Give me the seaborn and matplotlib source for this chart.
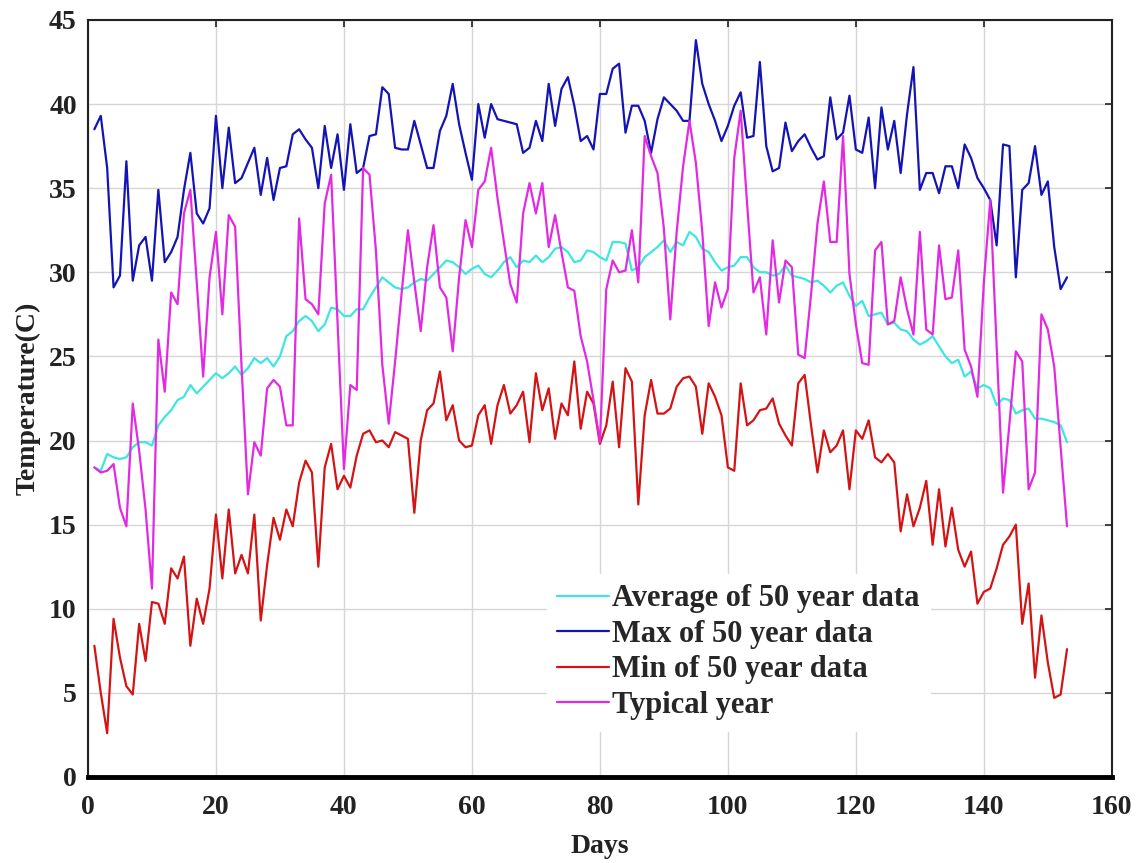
import numpy as np
import pandas as pd
import seaborn as sns
import matplotlib
matplotlib.use("Agg")
import matplotlib.pyplot as plt

# day index 1..153
days = np.arange(1, 154)

# ---- series ----
avg_50 = [18.4, 18.2, 19.2, 19.0, 18.9, 19.0, 19.6, 19.9, 19.9, 19.7, 20.9, 21.4, 21.8, 22.4, 22.6, 23.3, 22.8, 23.2, 23.6, 24.0, 23.7,
          24.0, 24.4, 23.9, 24.3, 24.9, 24.6, 24.9, 24.4, 25.0, 26.2, 26.5, 27.1, 27.4, 27.1, 26.5, 26.9, 27.9, 27.8, 27.4,
          27.4, 27.8, 27.8, 28.5, 29.1, 29.7, 29.4, 29.1, 29.0, 29.1, 29.4, 29.6, 29.5, 29.9, 30.3, 30.7, 30.6, 30.3, 29.9, 30.2,
          30.4, 29.9, 29.7, 30.1, 30.6, 30.9, 30.3, 30.7, 30.6, 31.0, 30.6, 30.9, 31.4, 31.5, 31.2, 30.6, 30.7, 31.3, 31.2, 30.9,
          30.7, 31.8, 31.8, 31.7, 30.1, 30.3, 30.9, 31.2, 31.5, 31.9, 31.2, 31.8, 31.6, 32.4, 32.1, 31.4, 31.2, 30.6, 30.1, 30.3,
          30.4, 30.9, 30.9, 30.3, 30.0, 30.0, 29.8, 29.9, 30.4, 29.8, 29.7, 29.6, 29.4, 29.5, 29.2, 28.8, 29.2, 29.4, 28.6, 28.0,
          28.3, 27.4, 27.5, 27.6,
          26.9, 27.0, 26.6, 26.5, 26.0, 25.7, 25.9, 26.2, 25.6, 25.0, 24.6, 24.8, 23.8, 24.1,
          23.1, 23.3, 23.1, 22.1, 22.5, 22.4, 21.6, 21.8, 21.9, 21.3, 21.3, 21.2, 21.1, 20.9, 19.9]

max_50 = [38.5, 39.3, 36.2, 29.1, 29.8, 36.6, 29.5, 31.6, 32.1, 29.5, 34.9, 30.6, 31.2, 32.1, 34.9, 37.1, 33.5, 32.9, 33.8, 39.3, 35.0,
          38.6, 35.3, 35.6, 36.5, 37.4, 34.6, 36.8, 34.3, 36.2, 36.3, 38.2, 38.5, 37.9, 37.4, 35.0, 38.7, 36.2, 38.2, 34.9,
          38.8, 35.9, 36.2, 38.1, 38.2, 41.0, 40.6, 37.4, 37.3, 37.3, 39.0, 37.6, 36.2, 36.2, 38.4, 39.3, 41.2, 38.8, 37.1, 35.5,
          40.0, 38.0, 40.0, 39.1, 39.0, 38.9, 38.8, 37.1, 37.4, 39.0, 37.8, 41.2, 38.7, 40.9, 41.6, 39.9, 37.8, 38.1, 37.3, 40.6,
          40.6, 42.1, 42.4, 38.3, 39.9, 39.9, 39.0, 37.1, 39.1, 40.4, 40.0, 39.6, 39.0, 39.0, 43.8, 41.2, 40.0, 39.0, 37.8, 38.7,
          39.9, 40.7, 38.0, 38.1, 42.5, 37.5, 36.0, 36.2, 38.9, 37.2, 37.8, 38.2, 37.4, 36.7, 36.9, 40.4, 37.9, 38.3, 40.5, 37.3,
          37.1, 39.2, 35.0, 39.8,
          37.3, 39.0, 35.9, 39.4, 42.2, 34.9, 35.9, 35.9, 34.7, 36.3, 36.3, 35.0, 37.6, 36.8,
          35.6, 35.0, 34.3, 31.6, 37.6, 37.5, 29.7, 34.9, 35.3, 37.5, 34.6, 35.4, 31.5, 29.0, 29.7]

min_50 = [7.8, 5.0, 2.6, 9.4, 7.1, 5.4, 4.9, 9.1, 6.9, 10.4, 10.3, 9.1, 12.4, 11.8, 13.1, 7.8, 10.6, 9.1, 11.2, 15.6, 11.8,
          15.9, 12.1, 13.2, 12.1, 15.6, 9.3, 12.6, 15.4, 14.1, 15.9, 14.9, 17.5, 18.8, 18.1, 12.5, 18.4, 19.8, 17.1, 17.9,
          17.2, 19.1, 20.4, 20.6, 19.9, 20.0, 19.6, 20.5, 20.3, 20.1, 15.7, 20.0, 21.8, 22.2, 24.1, 21.2, 22.1, 20.0, 19.6, 19.7,
          21.5, 22.1, 19.8, 22.1, 23.3, 21.6, 22.1, 22.9, 19.9, 24.0, 21.8, 23.1, 20.1, 22.2, 21.5, 24.7, 20.7, 22.9, 22.2, 19.8,
          20.9, 23.5, 19.6, 24.3, 23.5, 16.2, 21.5, 23.6, 21.6, 21.6, 21.9, 23.2, 23.7, 23.8, 23.2, 20.4, 23.4, 22.6, 21.5, 18.4,
          18.2, 23.4, 20.9, 21.2, 21.8, 21.9, 22.5, 21.0, 20.3, 19.7, 23.4, 23.9, 20.9, 18.1, 20.6, 19.3, 19.7, 20.6, 17.1, 20.6,
          20.1, 21.2, 19.0, 18.7,
          19.2, 18.7, 14.6, 16.8, 14.9, 16.0, 17.6, 13.8, 17.1, 13.7, 16.0, 13.5, 12.5, 13.4,
          10.3, 11.0, 11.2, 12.4, 13.8, 14.3, 15.0, 9.1, 11.5, 5.9, 9.6, 6.8, 4.7, 4.9, 7.6]

typical = [18.4, 18.1, 18.2, 18.6, 16.0, 14.9, 22.2, 19.4, 15.9, 11.2, 26.0, 22.9, 28.8, 28.1, 33.5, 34.9, 29.4, 23.8, 29.7, 32.4, 27.5,
           33.4, 32.7, 24.4, 16.8, 19.9, 19.1, 23.1, 23.6, 23.2, 20.9, 20.9, 33.2, 28.4, 28.1, 27.5, 34.1, 35.8, 27.0, 18.3,
           23.3, 23.0, 36.2, 35.8, 31.3, 24.5, 21.0, 24.7, 28.7, 32.5, 29.4, 26.5, 30.3, 32.8, 29.1, 28.5, 25.3, 29.7, 33.1, 31.5,
           34.9, 35.4, 37.4, 34.4, 31.8, 29.3, 28.2, 33.5, 35.3, 33.5, 35.3, 31.5, 33.4, 31.2, 29.1, 28.9, 26.2, 24.7, 22.4, 19.9,
           29.0, 30.7, 30.0, 30.1, 32.5, 29.4, 38.1, 36.9, 35.9, 32.6, 27.2, 32.4, 36.3, 39.0, 36.5, 32.4, 26.8, 29.4, 27.9, 29.0,
           36.8, 39.6, 34.1, 28.8, 29.7, 26.3, 31.9, 28.2, 30.7, 30.3, 25.1, 24.9, 28.7, 32.9, 35.4, 31.8, 31.8, 38.1, 29.9, 26.9,
           24.6, 24.5, 31.3, 31.8,
           26.9, 27.1, 29.7, 27.8, 26.3, 32.4, 26.6, 26.3, 31.6, 28.4, 28.5, 31.3, 25.4, 24.4,
           22.6, 29.4, 34.3, 25.6, 16.9, 21.0, 25.3, 24.7, 17.1, 18.1, 27.5, 26.6, 24.4, 19.6, 14.9]

labels = ["Average of 50 year data", "Max of 50 year data", "Min of 50 year data", "Typical year"]
colors = ["#3ee6e0", "#1414b4", "#d41414", "#e22ae2"]

df = pd.DataFrame({
    "Days": np.tile(days, 4),
    "Temperature": np.concatenate([avg_50, max_50, min_50, typical]),
    "series": np.repeat(labels, len(days)),
})

sns.set_style("whitegrid")
plt.rcParams["font.family"] = ["Liberation Serif", "DejaVu Serif"]
plt.rcParams["font.weight"] = "bold"

fig = plt.figure(figsize=(11.38, 8.63), dpi=100)
ax = fig.add_axes([0.0773, 0.0997, 0.8997, 0.8772])

sns.lineplot(data=df, x="Days", y="Temperature", hue="series", hue_order=labels,
             palette=colors, linewidth=1.6, ax=ax)

ax.set_xlim(0, 160)
ax.set_ylim(0, 45)
ax.set_xticks(np.arange(0, 161, 20))
ax.set_yticks(np.arange(0, 46, 5))
ax.grid(True, color="#d6d6d6", linewidth=1.0)
ax.tick_params(direction="in", top=True, right=True, length=5, width=1.2,
               labelsize=20, colors="#222222", pad=8)
ax.tick_params(axis="x", pad=13)
for lab in ax.get_xticklabels() + ax.get_yticklabels():
    lab.set_fontweight("bold")

for side in ["top", "right", "left"]:
    ax.spines[side].set_color("#222222")
    ax.spines[side].set_linewidth(1.5)
ax.spines["bottom"].set_color("black")
ax.spines["bottom"].set_linewidth(3.5)

ax.set_xlabel("Days", fontsize=20, fontweight="bold", color="#222222", labelpad=10)
ax.set_ylabel("Temperature(C)", fontsize=20, fontweight="bold", color="#222222", labelpad=6)

leg = ax.legend(loc="lower left", bbox_to_anchor=(0.433, 0.041), frameon=True,
                facecolor="white", edgecolor="white", framealpha=1, fancybox=False,
                prop={"family": "Liberation Serif", "weight": "bold", "size": 22},
                handlelength=1.7, handletextpad=0.1, labelspacing=0.215, borderpad=0.35)

fig.savefig("out.png", dpi=100)
